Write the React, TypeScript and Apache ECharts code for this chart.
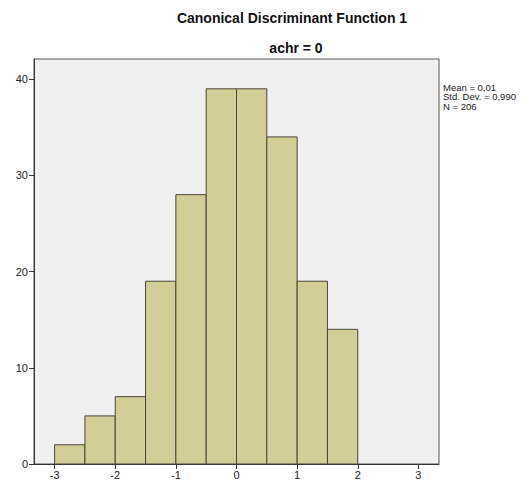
import React, { useEffect, useRef } from "react";
import * as echarts from "echarts";

const binStarts = [-3, -2.5, -2, -1.5, -1, -0.5, 0, 0.5, 1, 1.5];
const binEnds = [-2.5, -2, -1.5, -1, -0.5, 0, 0.5, 1, 1.5, 2];
const counts = [2, 5, 7, 19, 28, 39, 39, 34, 19, 14];
const xTicks = [-3, -2, -1, 0, 1, 2, 3];
const yTicks = [0, 10, 20, 30, 40];
const titleText = "Canonical Discriminant Function 1";
const subtitleText = "achr = 0";
const statsLines = ["Mean = 0,01", "Std. Dev. = 0,990", "N = 206"];

const FONT = "'Liberation Sans', Arial, Helvetica, sans-serif";

export default function App() {
  const ref = useRef<HTMLDivElement>(null);
  useEffect(() => {
    if (!ref.current) return;
    const chart = echarts.init(ref.current, null, { renderer: "svg" });
    const data = binStarts.map((s, i) => [s, binEnds[i], counts[i]]);
    chart.setOption({
      animation: false,
      backgroundColor: "#ffffff",
      textStyle: { fontFamily: FONT },
      grid: {
        left: 34,
        top: 59,
        right: 88,
        bottom: 18,
        show: true,
        backgroundColor: "#F0F0F0",
        borderColor: "#555555",
        borderWidth: 1,
      },
      xAxis: {
        type: "value",
        min: -3.34,
        max: 3.34,
        splitLine: { show: false },
        axisLine: { show: true, onZero: false, lineStyle: { color: "#333333", width: 1 } },
        axisTick: { show: true, length: 5, customValues: xTicks, lineStyle: { color: "#333333" } },
        axisLabel: {
          customValues: xTicks,
          fontSize: 11,
          color: "#222222",
          margin: 5,
          fontFamily: FONT,
        },
      },
      yAxis: {
        type: "value",
        min: 0,
        max: 42.1,
        splitLine: { show: false },
        axisLine: { show: true, onZero: false, lineStyle: { color: "#333333", width: 1 } },
        axisTick: { show: true, length: 5, customValues: yTicks, lineStyle: { color: "#333333" } },
        axisLabel: {
          customValues: yTicks,
          fontSize: 11,
          color: "#222222",
          margin: 6,
          fontFamily: FONT,
        },
      },
      series: [
        {
          type: "custom",
          data,
          encode: { x: [0, 1], y: 2 },
          renderItem: (params: any, api: any) => {
            const p0 = api.coord([api.value(0), api.value(2)]);
            const p1 = api.coord([api.value(1), 0]);
            return {
              type: "rect",
              shape: { x: p0[0], y: p0[1], width: p1[0] - p0[0], height: p1[1] - p0[1] },
              style: { fill: "#D3CE98", stroke: "#4B4636", lineWidth: 1 },
            };
          },
        },
      ],
      graphic: [
        {
          type: "text",
          x: 292,
          y: 18,
          style: {
            text: titleText,
            fontSize: 14,
            fontWeight: "bold",
            fontFamily: FONT,
            fill: "#111111",
            textAlign: "center",
            textVerticalAlign: "middle",
          },
        },
        {
          type: "text",
          x: 296,
          y: 48,
          style: {
            text: subtitleText,
            fontSize: 14,
            fontWeight: "bold",
            fontFamily: FONT,
            fill: "#111111",
            textAlign: "center",
            textVerticalAlign: "middle",
          },
        },
        ...statsLines.map((line, i) => ({
          type: "text",
          x: 443,
          y: 87 + i * 9.5,
          style: {
            text: line,
            fontSize: 9.5,
            fontFamily: FONT,
            fill: "#222222",
            textAlign: "left",
            textVerticalAlign: "middle",
          },
        })),
      ],
    });
    return () => chart.dispose();
  }, []);
  return (
    <div
      ref={ref}
      style={{ position: "absolute", left: 0, top: 0, width: 527, height: 482 }}
    />
  );
}
